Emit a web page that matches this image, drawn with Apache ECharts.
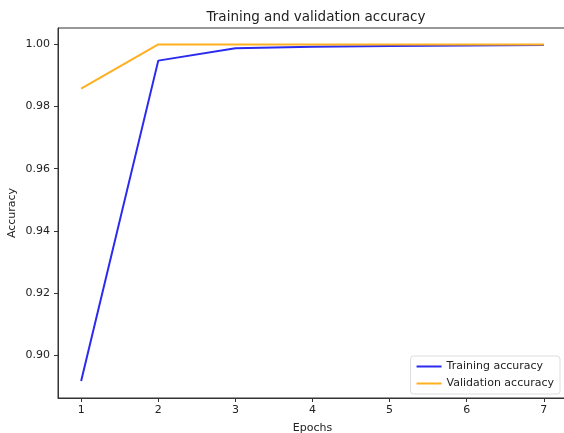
<!DOCTYPE html>
<html><head><meta charset="utf-8">
<script src="https://cdn.jsdelivr.net/npm/echarts@6/dist/echarts.min.js"></script>
<style>html,body{margin:0;padding:0;background:#fff}#c{width:564px;height:433px}</style>
</head><body><div id="c"></div>
<script>
const epochs = [1, 2, 3, 4, 5, 6, 7];
const trainingAccuracy = [0.8917, 0.9948, 0.9988, 0.9993, 0.9995, 0.9997, 0.9998];
const validationAccuracy = [0.9858, 1.0, 1.0, 1.0, 1.0, 1.0, 1.0];
const yTicks = [0.90, 0.92, 0.94, 0.96, 0.98, 1.00];
const xTicks = [1, 2, 3, 4, 5, 6, 7];

const font = 'DejaVu Sans';
const chart = echarts.init(document.getElementById('c'), null, {renderer: 'canvas'});
chart.setOption({
  animation: false,
  backgroundColor: '#fff',
  title: {
    text: 'Training and validation accuracy',
    left: 311, top: 5, textAlign: 'center',
    textStyle: {fontFamily: font, fontSize: 13.5, fontWeight: 'normal', color: '#222'}
  },
  grid: {left: 58, right: -3, top: 28, bottom: 35, show: true, borderColor: '#333', borderWidth: 1,
    containLabel: false, outerBoundsMode: 'none'},
  xAxis: {
    type: 'value', min: 0.7, max: 7.3,
    name: 'Epochs', nameLocation: 'middle', nameGap: 25,
    nameTextStyle: {fontFamily: font, fontSize: 11, color: '#222'},
    axisLine: {show: true, lineStyle: {color: '#333'}},
    axisTick: {show: true, length: 4, lineStyle: {color: '#333'}, customValues: xTicks},
    axisLabel: {fontFamily: font, fontSize: 11, color: '#222', margin: 7, customValues: xTicks,
      formatter: v => String(Math.round(v))},
    splitLine: {show: false}
  },
  yAxis: {
    type: 'value', min: 0.8862, max: 1.0053,
    name: 'Accuracy', nameLocation: 'middle', nameGap: 40, nameRotate: 90, nameMoveOverlap: false,
    nameTextStyle: {fontFamily: font, fontSize: 11, color: '#222'},
    axisLine: {show: true, lineStyle: {color: '#333'}},
    axisTick: {show: true, length: 4, lineStyle: {color: '#333'}, customValues: yTicks},
    axisLabel: {fontFamily: font, fontSize: 11, color: '#222', margin: 8, customValues: yTicks,
      formatter: v => v.toFixed(2)},
    splitLine: {show: false}
  },
  legend: {
    orient: 'vertical', right: 4, top: 356,
    itemWidth: 25, itemHeight: 2, itemGap: 6, icon: 'rect',
    padding: [5, 6, 5, 6],
    borderColor: '#ddd', borderWidth: 1, borderRadius: 3, backgroundColor: '#fff',
    textStyle: {fontFamily: font, fontSize: 11, color: '#222'},
    data: ['Training accuracy', 'Validation accuracy']
  },
  series: [
    {name: 'Training accuracy', type: 'line', showSymbol: false, color: '#2a2af0',
      lineStyle: {width: 2, color: '#2a2af0'},
      data: epochs.map((e, i) => [e, trainingAccuracy[i]])},
    {name: 'Validation accuracy', type: 'line', showSymbol: false, color: '#ffb020',
      lineStyle: {width: 2, color: '#ffb020'},
      data: epochs.map((e, i) => [e, validationAccuracy[i]])}
  ]
});
</script></body></html>
